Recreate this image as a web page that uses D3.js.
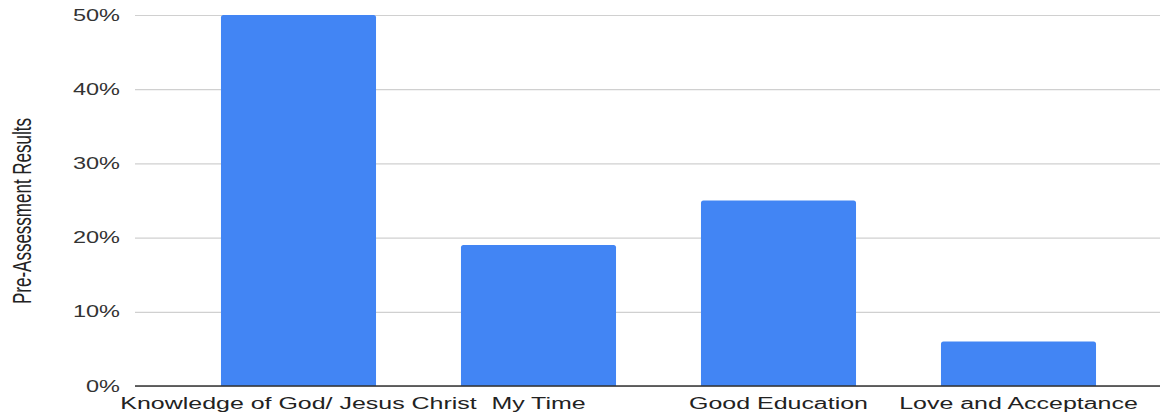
<!DOCTYPE html>
<html><head><meta charset="utf-8">
<script src="https://cdn.jsdelivr.net/npm/d3@7"></script>
<style>body{margin:0;background:#fff}svg{display:block}text{font-family:"Liberation Sans",Arial,sans-serif}</style>
</head><body>
<svg id="c" width="1174" height="415"></svg>
<script>
const categories = ["Knowledge of God/ Jesus Christ","My Time","Good Education","Love and Acceptance"];
const values = [0.50, 0.19, 0.25, 0.06];
const yTicks = [0,0.1,0.2,0.3,0.4,0.5];
const yTitle = "Pre-Assessment Results";

(function(){
const svg = d3.select("#c");
const SX = 1.47, SXL = 1.56;
const gridL = 135, gridR = 1160, plotTop = 15, plotBottom = 386;
const x = d3.scaleBand().domain(categories).range([178.5,1138.5]).paddingInner(0.354).paddingOuter(0.177);
const y = d3.scaleLinear().domain([0,0.5]).range([plotBottom, plotTop]);

// gridlines
const gAxis = svg.append("g").attr("transform",`translate(${gridL},0)`)
  .call(d3.axisLeft(y).tickValues(yTicks).tickSize(-(gridR-gridL)).tickFormat(""));
gAxis.select(".domain").remove();
gAxis.selectAll(".tick line").attr("stroke","#d0d0d0").attr("stroke-width",1.2);

// y tick labels
svg.append("g").selectAll("text").data(yTicks).join("text")
  .attr("transform",d=>`translate(120,${y(d)+5.5}) scale(${SX},1)`)
  .attr("text-anchor","end").attr("font-size",16).attr("fill","#333")
  .text(d=>d3.format(".0%")(d));

// bars with rounded top corners
const r = 2.5;
svg.append("g").selectAll("path").data(categories).join("path")
  .attr("fill","#4285f4")
  .attr("d",(c,i)=>{
    const x0=x(c), w=x.bandwidth(), y0=y(values[i]), y1=y(0);
    return `M${x0},${y1}V${y0+r}Q${x0},${y0} ${x0+r},${y0}H${x0+w-r}Q${x0+w},${y0} ${x0+w},${y0+r}V${y1}Z`;
  });

// baseline
svg.append("line").attr("x1",gridL).attr("x2",gridR).attr("y1",y(0)).attr("y2",y(0))
  .attr("stroke","#333").attr("stroke-width",1.3);

// x labels
svg.append("g").selectAll("text").data(categories).join("text")
  .attr("transform",c=>`translate(${x(c)+x.bandwidth()/2},409) scale(${SXL},1)`)
  .attr("text-anchor","middle").attr("font-size",16).attr("fill","#222")
  .text(c=>c);

// y title
svg.append("text")
  .attr("transform",`translate(30.5,211) scale(${SX},1) rotate(-90)`)
  .attr("text-anchor","middle").attr("font-size",17).attr("fill","#222")
  .text(yTitle);
})();
</script>
</body></html>
